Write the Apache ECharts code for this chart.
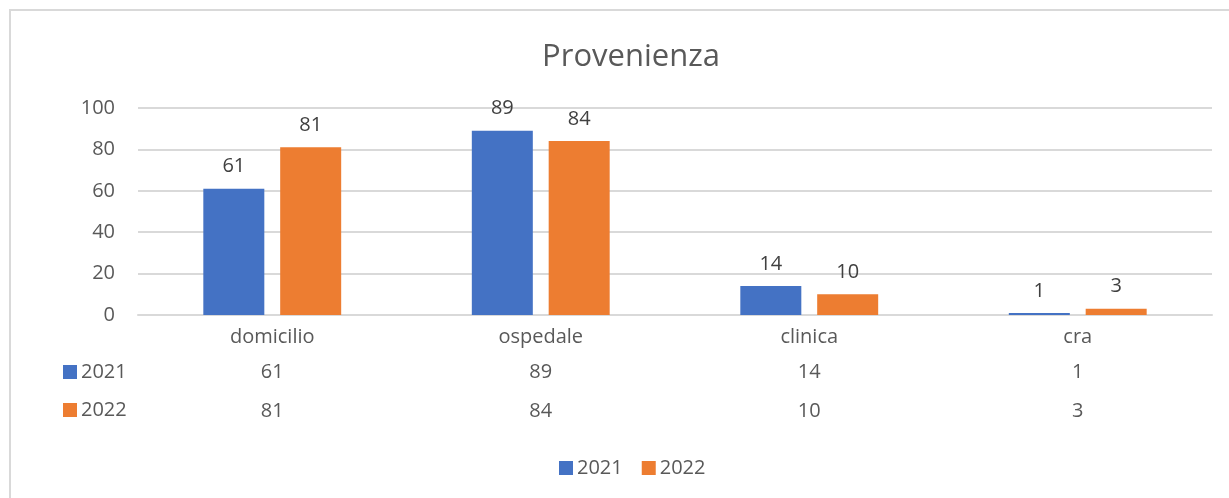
<!DOCTYPE html>
<html>
<head>
<meta charset="utf-8">
<script src="https://cdn.jsdelivr.net/npm/echarts@6/dist/echarts.min.js"></script>
<style>
  html, body { margin: 0; padding: 0; background: #fff; }
  #chart { width: 1229px; height: 498px; }
</style>
</head>
<body>
<div id="chart"></div>
<script>
// dati del grafico
const categories = ['domicilio', 'ospedale', 'clinica', 'cra'];
const seriesNames = ['2021', '2022'];
const values2021 = [61, 89, 14, 1];
const values2022 = [81, 84, 10, 3];
const yTicks = [0, 20, 40, 60, 80, 100];

const BLUE = '#4472C4';
const ORANGE = '#ED7D31';
const FONT = 'Open Sans';
const TXT = '#595959';

const chart = echarts.init(document.getElementById('chart'));

// asse categorie + due righe di tabella dati sotto
const tableRows = [values2021, values2022];
const baseAxis = {
  type: 'category',
  data: categories,
  gridIndex: 0,
  axisTick: { show: false },
  splitLine: { show: false }
};

const xAxes = [
  Object.assign({}, baseAxis, {
    axisLine: { lineStyle: { color: '#d9d9d9', width: 2 } },
    axisLabel: { color: TXT, fontFamily: FONT, fontSize: 20, margin: 12 }
  })
].concat(tableRows.map((row, r) => Object.assign({}, baseAxis, {
  position: 'bottom',
  offset: r === 0 ? 35 : 74,
  axisLine: { show: false },
  axisLabel: {
    color: TXT, fontFamily: FONT, fontSize: 20, margin: 12,
    formatter: (v, i) => String(row[i])
  }
})));

const rowGraphics = [];
seriesNames.forEach((name, r) => {
  const cy = r === 0 ? 372 : 410;
  rowGraphics.push({
    type: 'rect',
    shape: { x: 63, y: cy - 7, width: 14, height: 14 },
    style: { fill: r === 0 ? BLUE : ORANGE }
  });
  rowGraphics.push({
    type: 'text',
    x: 81, y: cy,
    style: {
      text: name, fill: TXT, font: '20px "' + FONT + '"',
      verticalAlign: 'middle', align: 'left'
    }
  });
});

const option = {
  backgroundColor: '#fff',
  animation: false,
  title: {
    text: 'Provenienza',
    left: 626,
    top: 37,
    textAlign: 'center',
    textStyle: { color: TXT, fontFamily: FONT, fontSize: 31, fontWeight: 'normal' }
  },
  legend: {
    data: seriesNames,
    left: 554,
    top: 453,
    icon: 'rect',
    itemWidth: 14,
    itemHeight: 14,
    itemGap: 19,
    textStyle: { color: TXT, fontFamily: FONT, fontSize: 20, padding: [0, 0, 0, -1] }
  },
  grid: { left: 138, right: 17, top: 108, bottom: 183 },
  xAxis: xAxes,
  yAxis: {
    type: 'value',
    min: yTicks[0],
    max: yTicks[yTicks.length - 1],
    interval: 20,
    axisLine: { show: false },
    axisTick: { show: false },
    axisLabel: { color: TXT, fontFamily: FONT, fontSize: 20, margin: 23 },
    splitLine: { lineStyle: { color: '#d9d9d9', width: 2 } }
  },
  series: [
    {
      name: seriesNames[0],
      type: 'bar',
      data: values2021,
      barWidth: 61,
      barGap: '26%',
      itemStyle: { color: BLUE },
      label: { show: true, position: 'top', distance: 12, color: '#404040', fontFamily: FONT, fontSize: 20 }
    },
    {
      name: seriesNames[1],
      type: 'bar',
      data: values2022,
      barWidth: 61,
      barGap: '26%',
      itemStyle: { color: ORANGE },
      label: { show: true, position: 'top', distance: 12, color: '#404040', fontFamily: FONT, fontSize: 20 }
    }
  ],
  graphic: [
    {
      type: 'rect',
      shape: { x: 10, y: 10, width: 1240, height: 520 },
      style: { fill: 'none', stroke: '#d9d9d9', lineWidth: 2 },
      silent: true
    }
  ].concat(rowGraphics)
};

chart.setOption(option);
</script>
</body>
</html>
